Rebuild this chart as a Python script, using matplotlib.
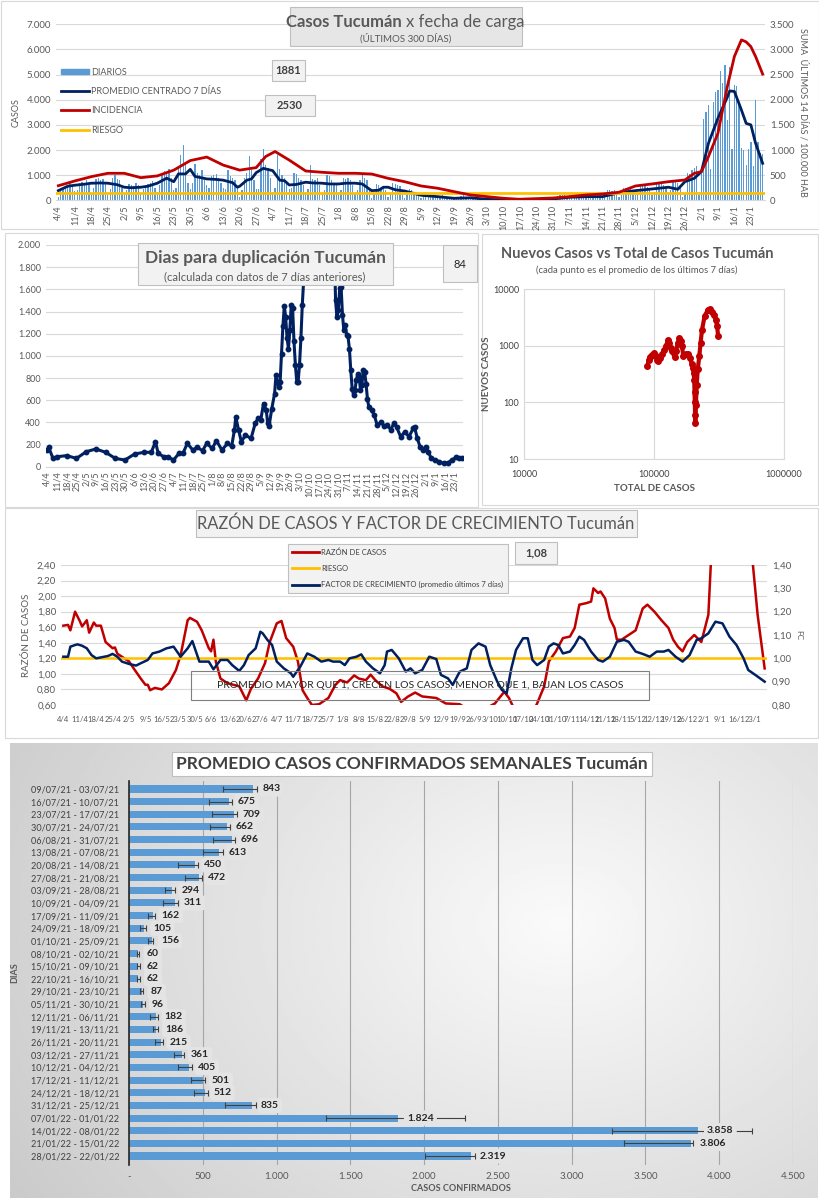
import numpy as np
import pandas as pd
import matplotlib
matplotlib.use('Agg')
import matplotlib.pyplot as plt
from matplotlib.patches import Rectangle, Patch
from matplotlib.lines import Line2D
from matplotlib.ticker import FuncFormatter

plt.rcParams['font.family'] = ['Lato', 'DejaVu Sans']

AZUL = '#002060'
ROJO = '#C00000'
AMAR = '#FFC000'
CELESTE = '#5B9BD5'
GRIS = '#595959'
GRID = '#D9D9D9'

# ---------------- datos: casos diarios (4/4/21 -> 28/1/22), una fila por semana
diarios = [
    150, 380, 450, 500, 620, 700, 550,
    380, 420, 700, 720, 650, 800, 600,
    250, 500, 850, 900, 800, 850, 700,
    200, 450, 900, 1000, 850, 800, 500,
    250, 400, 650, 600, 550, 700, 600,
    300, 450, 550, 650, 700, 750, 500,
    350, 600, 1000, 1150, 1100, 1250, 900,
    400, 500, 1300, 1800, 2200, 1500, 700,
    450, 700, 1450, 1100, 1000, 1200, 800,
    600, 500, 950, 1000, 1050, 900, 700,
    500, 450, 1200, 950, 900, 800, 500,
    150, 400, 900, 1100, 1750, 1200, 800,
    450, 450, 1650, 2050, 1400, 1300, 900,
    350, 500, 1800, 1250, 1000, 900, 700,
    450, 500, 1100, 1050, 900, 800, 600,
    300, 450, 1400, 850, 800, 900, 600,
    250, 400, 1000, 950, 800, 700, 600,
    200, 400, 900, 850, 900, 800, 600,
    250, 400, 800, 1000, 900, 800, 500,
    100, 250, 650, 600, 500, 550, 400,
    150, 300, 700, 650, 600, 550, 300,
    100, 250, 450, 400, 350, 300, 250,
    100, 200, 350, 300, 250, 200, 150,
    80, 120, 200, 180, 150, 130, 100,
    60, 100, 150, 180, 200, 150, 100,
    50, 80, 100, 90, 80, 70, 60,
    30, 50, 80, 70, 60, 60, 50,
    30, 40, 70, 80, 70, 60, 50,
    40, 60, 100, 110, 100, 90, 80,
    50, 60, 110, 120, 110, 100, 80,
    60, 80, 180, 200, 220, 210, 180,
    80, 120, 220, 230, 210, 200, 160,
    90, 130, 260, 270, 250, 240, 200,
    120, 180, 400, 420, 380, 400, 350,
    150, 220, 480, 500, 450, 430, 400,
    200, 300, 600, 580, 550, 520, 450,
    220, 350, 650, 700, 650, 600, 500,
    250, 400, 750, 800, 700, 600, 150,
    300, 1100, 1050, 1200, 1300, 1350, 200,
    1100, 3250, 3500, 3800, 1250, 3900, 4300,
    4400, 5150, 4650, 5400, 3200, 5300, 2050,
    4600, 4550, 3800, 2100, 2000, 1400, 2050,
    2300, 1350, 4000, 2300, 1900, 1850,
]

prom_fechas = ['4/4', '8/4', '11/4', '15/4', '18/4', '22/4', '25/4', '29/4', '2/5', '5/5',
               '9/5', '12/5', '16/5', '20/5', '23/5', '25/5', '28/5', '30/5', '1/6', '6/6',
               '10/6', '13/6', '17/6', '19/6', '20/6', '23/6', '25/6', '27/6', '30/6', '4/7',
               '7/7', '9/7', '11/7', '14/7', '18/7', '21/7', '25/7', '28/7', '1/8', '4/8',
               '8/8', '11/8', '15/8', '18/8', '20/8', '22/8', '25/8', '29/8', '5/9', '12/9',
               '19/9', '26/9', '3/10', '10/10', '17/10', '24/10', '31/10', '7/11', '14/11', '21/11',
               '28/11', '5/12', '12/12', '19/12', '23/12', '26/12', '30/12', '2/1', '5/1', '9/1',
               '13/1', '14/1', '16/1', '19/1', '21/1', '23/1', '25/1', '28/1']
prom_vals = [385, 560, 600, 640, 680, 690, 680, 620, 520, 500,
             520, 560, 680, 880, 740, 1050, 1050, 1230, 950, 850,
             830, 800, 700, 520, 560, 800, 850, 1100, 1270, 1180,
             800, 780, 610, 630, 720, 690, 680, 650, 650, 680,
             680, 650, 385, 400, 520, 520, 420, 370, 200, 145,
             80, 100, 40, 15, 40, 40, 55, 120, 145, 145,
             300, 385, 450, 520, 440, 740, 875, 1140, 2270, 3260,
             4100, 4350, 4330, 3590, 3060, 3000, 2270, 1470]

inc_fechas = ['4/4', '11/4', '18/4', '25/4', '2/5', '9/5', '16/5', '23/5', '30/5', '6/6',
              '13/6', '20/6', '27/6', '1/7', '5/7', '11/7', '18/7', '25/7', '1/8', '8/8',
              '15/8', '22/8', '29/8', '5/9', '12/9', '19/9', '26/9', '3/10', '10/10', '17/10',
              '24/10', '31/10', '7/11', '14/11', '21/11', '28/11', '5/12', '12/12', '19/12', '26/12',
              '30/12', '2/1', '5/1', '9/1', '13/1', '16/1', '19/1', '21/1', '23/1', '25/1', '28/1']
inc_vals = [290, 385, 470, 537, 537, 450, 485, 600, 790, 860,
            700, 600, 650, 870, 970, 800, 583, 557, 537, 537,
            523, 437, 370, 285, 240, 172, 106, 73, 40, 20,
            33, 46, 73, 106, 126, 160, 285, 325, 370, 404,
            537, 570, 870, 1330, 2260, 2860, 3190, 3150, 3055, 2860, 2510]
riesgo_inc = 150

# ---------------- dias para duplicacion
dup_fechas = ['4/4', '5/4', '8/4', '11/4', '18/4', '25/4', '2/5', '9/5', '16/5', '23/5',
              '30/5', '6/6', '13/6', '18/6', '21/6', '23/6', '27/6', '30/6', '4/7', '8/7',
              '11/7', '14/7', '18/7', '21/7', '25/7', '28/7', '1/8', '4/8', '8/8', '12/8',
              '15/8', '17/8', '18/8', '20/8', '22/8', '25/8', '29/8', '1/9', '3/9', '5/9',
              '7/9', '9/9', '10/9', '11/9', '13/9', '15/9', '16/9', '18/9', '19/9', '20/9',
              '21/9', '22/9', '23/9', '24/9', '25/9', '26/9', '27/9', '28/9', '29/9', '30/9',
              '1/10', '2/10', '3/10', '4/10', '5/10', '6/10', '7/10', '10/10', '15/10', '20/10',
              '25/10', '28/10', '29/10', '30/10', '31/10', '1/11', '2/11', '3/11', '4/11', '5/11',
              '6/11', '7/11', '8/11', '9/11', '10/11', '11/11', '12/11', '13/11', '14/11', '15/11',
              '16/11', '17/11', '18/11', '19/11', '20/11', '21/11', '22/11', '24/11', '26/11', '28/11',
              '1/12', '3/12', '5/12', '8/12', '10/12', '12/12', '15/12', '18/12', '21/12', '24/12',
              '25/12', '27/12', '29/12', '31/12', '2/1', '4/1', '6/1', '9/1', '12/1', '15/1',
              '18/1', '21/1', '24/1', '26/1', '28/1']
dup_vals = [150, 175, 75, 90, 100, 75, 135, 160, 130, 75,
            60, 115, 130, 130, 225, 120, 90, 90, 60, 120,
            125, 210, 150, 175, 145, 210, 165, 235, 150, 210,
            185, 330, 450, 330, 225, 285, 255, 390, 435, 420,
            570, 510, 390, 365, 525, 660, 825, 720, 765, 1020,
            1265, 1450, 1350, 1160, 1065, 1230, 1460, 1430, 1130, 920,
            765, 765, 920, 1160, 1460, 1685, 2300, 3200, 4000, 3600,
            2900, 2100, 1500, 1350, 1410, 1610, 1625, 1370, 1230, 1280,
            1190, 1175, 1065, 870, 705, 645, 690, 780, 840, 810,
            690, 735, 870, 855, 750, 615, 540, 510, 465, 375,
            405, 365, 375, 335, 390, 360, 270, 315, 270, 345,
            360, 255, 180, 150, 180, 135, 75, 60, 45, 30,
            35, 60, 85, 80, 75]

# ---------------- nuevos casos vs total
total = [89000, 91000, 93000, 96000, 100000, 103000, 106000, 108000, 111000, 116000,
         120000, 124000, 128000, 131000, 134000, 138000, 144000, 148000, 152000, 156000,
         160000, 164000, 168000, 175000, 183000, 190000, 195000, 199000, 202000, 204000,
         205000, 206000, 207000, 208000, 210000, 213000, 217000, 223000, 228000, 234000,
         245000, 258000, 268000, 280000, 292000, 300000, 306000, 311000]
nuevos = [430, 560, 640, 690, 740, 650, 560, 530, 600, 700,
          850, 1000, 1250, 1100, 900, 800, 620, 800, 1100, 1340,
          1200, 1000, 660, 700, 720, 600, 480, 400, 330, 250,
          150, 100, 60, 43, 90, 200, 380, 650, 1100, 1900,
          3300, 4200, 4500, 4000, 3500, 2800, 2200, 1500]

# ---------------- razon de casos y factor de crecimiento (dias desde 4/4)
razon_dias = [0, 2, 3, 5, 7, 8, 10, 11, 13, 14, 16, 18, 21, 22, 23, 25, 28, 30, 33, 35,
              36, 37, 39, 42, 45, 48, 50, 51, 53, 54, 57, 59, 62, 63, 64, 65, 67, 70, 75, 78,
              80, 83, 86, 88, 91, 93, 95, 98, 100, 102, 104, 106, 109, 113, 116, 118, 121, 124, 126, 129,
              131, 133, 136, 139, 142, 144, 147, 150, 153, 159, 163, 169, 172, 178, 184, 188, 190, 193, 200, 202,
              205, 207, 210, 213, 216, 218, 220, 223, 225, 226, 228, 229, 231, 233, 235, 236, 238, 241, 244, 247,
              249, 252, 255, 258, 260, 262, 264, 266, 269, 272, 275, 276, 277, 281, 287, 292, 294, 296, 299]
razon_vals = [1.62, 1.63, 1.56, 1.80, 1.68, 1.61, 1.69, 1.53, 1.66, 1.62, 1.62, 1.41, 1.33, 1.34, 1.26, 1.22, 1.16, 1.07, 0.94, 0.86,
              0.86, 0.79, 0.82, 0.80, 0.88, 1.05, 1.24, 1.39, 1.69, 1.72, 1.67, 1.56, 1.33, 1.29, 1.44, 1.16, 0.94, 0.88, 0.84, 0.66,
              0.81, 0.94, 1.14, 1.41, 1.65, 1.68, 1.46, 1.35, 1.16, 0.79, 0.69, 0.60, 0.61, 0.69, 0.86, 0.92, 0.89, 0.98, 0.94, 0.92,
              0.99, 0.92, 0.84, 0.81, 0.75, 0.64, 0.71, 0.76, 0.71, 0.69, 0.62, 0.61, 0.55, 0.52, 0.62, 0.77, 0.69, 0.50, 0.50, 0.62,
              0.84, 1.16, 1.29, 1.46, 1.48, 1.59, 1.89, 1.91, 1.93, 2.10, 2.04, 2.06, 1.97, 1.71, 1.59, 1.44, 1.44, 1.50, 1.56, 1.84,
              1.89, 1.80, 1.69, 1.59, 1.44, 1.35, 1.29, 1.41, 1.50, 1.41, 1.76, 2.38, 2.80, 3.50, 3.60, 2.90, 2.40, 1.76, 1.07]

fc_dias = [0, 2, 3, 5, 6, 8, 10, 12, 14, 16, 19, 21, 23, 25, 28, 31, 33, 36, 38, 41,
           44, 47, 50, 53, 55, 58, 62, 64, 67, 70, 72, 75, 77, 79, 82, 84, 85, 87, 89, 91,
           94, 97, 98, 99, 101, 104, 107, 110, 113, 115, 118, 120, 122, 125, 127, 129, 132, 135, 137, 138,
           140, 143, 146, 148, 150, 153, 156, 159, 161, 164, 166, 169, 172, 174, 177, 180, 182, 185, 187, 189,
           191, 193, 196, 198, 200, 202, 205, 207, 209, 211, 213, 216, 218, 220, 222, 225, 228, 230, 233, 236,
           239, 241, 244, 247, 250, 253, 256, 258, 261, 264, 267, 270, 272, 275, 278, 281, 284, 287, 290, 292,
           295, 299]
fc_vals = [1.007, 1.007, 1.05, 1.057, 1.06, 1.054, 1.043, 1.014, 1.0, 1.004, 1.01, 1.019, 1.007, 0.986, 0.976, 0.969, 0.979, 0.993, 1.021, 1.029,
           1.043, 1.05, 1.007, 1.043, 1.074, 0.986, 0.986, 0.953, 0.993, 0.993, 0.971, 0.946, 0.971, 1.014, 1.043, 1.114, 1.107, 1.079, 1.057, 0.986,
           0.957, 0.936, 0.921, 0.936, 0.964, 1.021, 1.007, 0.986, 0.993, 0.986, 0.986, 0.971, 1.0, 1.007, 1.017, 0.986, 0.957, 0.936, 0.971, 1.029,
           1.036, 1.0, 0.943, 0.957, 0.936, 0.95, 1.007, 0.997, 0.929, 0.914, 0.886, 0.943, 0.957, 1.036, 1.064, 1.05, 0.971, 0.9, 0.864, 0.85,
           0.957, 1.036, 1.086, 1.086, 0.993, 0.971, 0.993, 1.05, 1.064, 1.057, 1.021, 1.029, 1.057, 1.093, 1.079, 1.029, 0.993, 0.986, 1.007, 1.071,
           1.079, 1.071, 1.029, 1.019, 1.007, 1.029, 1.029, 1.036, 1.007, 0.986, 1.014, 1.079, 1.086, 1.107, 1.157, 1.15, 1.093, 1.057, 1.0, 0.95,
           0.929, 0.9]

# ---------------- promedios semanales
semanas = ['09/07/21 - 03/07/21', '16/07/21 - 10/07/21', '23/07/21 - 17/07/21', '30/07/21 - 24/07/21',
           '06/08/21 - 31/07/21', '13/08/21 - 07/08/21', '20/08/21 - 14/08/21', '27/08/21 - 21/08/21',
           '03/09/21 - 28/08/21', '10/09/21 - 04/09/21', '17/09/21 - 11/09/21', '24/09/21 - 18/09/21',
           '01/10/21 - 25/09/21', '08/10/21 - 02/10/21', '15/10/21 - 09/10/21', '22/10/21 - 16/10/21',
           '29/10/21 - 23/10/21', '05/11/21 - 30/10/21', '12/11/21 - 06/11/21', '19/11/21 - 13/11/21',
           '26/11/21 - 20/11/21', '03/12/21 - 27/11/21', '10/12/21 - 04/12/21', '17/12/21 - 11/12/21',
           '24/12/21 - 18/12/21', '31/12/21 - 25/12/21', '07/01/22 - 01/01/22', '14/01/22 - 08/01/22',
           '21/01/22 - 15/01/22', '28/01/22 - 22/01/22']
promedios = [843, 675, 709, 662, 696, 613, 450, 472, 294, 311, 162, 105, 156, 60, 62,
             62, 87, 96, 182, 186, 215, 361, 405, 501, 512, 835, 1824, 3858, 3806, 2319]
err_min = [639, 544, 562, 549, 571, 499, 334, 381, 244, 228, 131, 75, 131, 52, 52,
           52, 75, 79, 142, 160, 176, 305, 334, 418, 440, 651, 1333, 3271, 3355, 2006]
err_max = [865, 700, 734, 684, 718, 635, 470, 497, 312, 330, 176, 115, 165, 70, 75,
           75, 97, 108, 199, 199, 232, 373, 425, 517, 535, 858, 2277, 4220, 3824, 2345]

# ----------------------------------------------------------------------
W, H = 820, 1200
base = pd.Timestamp('2021-04-04')


def dia(s):
    d, m = map(int, s.split('/'))
    return (pd.Timestamp(2021 if m >= 4 else 2022, m, d) - base).days


def miles(v, pos=None):
    return f'{v:,.0f}'.replace(',', '.')


def coma(v, pos=None):
    return f'{v:.2f}'.replace('.', ',')


def rect(x0, y0, x1, y1):
    return [x0 / W, 1 - y1 / H, (x1 - x0) / W, (y1 - y0) / H]


def fx(x):
    return x / W


def fy(y):
    return 1 - y / H


def caja(x0, y0, x1, y1, fc='#F2F2F2', ec='#BFBFBF', z=5, lw=0.8):
    fig.patches.append(Rectangle((fx(x0), fy(y1)), (x1 - x0) / W, (y1 - y0) / H,
                                 transform=fig.transFigure, fc=fc, ec=ec, lw=lw, zorder=z))


def limpiar(ax):
    for s in ax.spines.values():
        s.set_visible(False)
    ax.tick_params(length=0, colors=GRIS, labelsize=7)


tick_fechas = pd.date_range('2021-04-04', periods=43, freq='7D')
tick_pos = [(d - base).days for d in tick_fechas]
tick_lab = [f'{d.day}/{d.month}' for d in tick_fechas]

fig = plt.figure(figsize=(8.2, 12), dpi=100)

# marcos de los paneles (detras de todo)
caja(1, 1, 819, 229, fc='white', ec=GRID, z=-2)
caja(5, 233, 478, 507, fc='white', ec=GRID, z=-2)
caja(482, 234, 818, 505, fc='white', ec=GRID, z=-2)
caja(5, 508, 818, 738, fc='white', ec=GRID, z=-2)

# ======================= panel 1
ax1 = fig.add_axes(rect(56, 24.3, 765, 200.3))
ax1.patch.set_alpha(0)
limpiar(ax1)
ax1.spines['bottom'].set_visible(True)
ax1.spines['bottom'].set_color(GRID)
ax1.bar(np.arange(len(diarios)), diarios, width=0.55, color=CELESTE, zorder=2)
ax1.plot([dia(s) for s in prom_fechas], prom_vals, color=AZUL, lw=2, zorder=3)
ax1.set_xlim(-1, 300)
ax1.set_ylim(0, 7000)
ax1.set_yticks(range(0, 7001, 1000))
ax1.yaxis.set_major_formatter(FuncFormatter(miles))
ax1.grid(axis='y', color=GRID, lw=0.8, zorder=0)
ax1.set_axisbelow(True)
ax1.set_xticks(tick_pos)
ax1.set_xticklabels(tick_lab, rotation=90, fontsize=6.5)
ax1.set_ylabel('CASOS', fontsize=6.5, color=GRIS, labelpad=4)

ax1b = ax1.twinx()
limpiar(ax1b)
ax1b.plot([dia(s) for s in inc_fechas], inc_vals, color=ROJO, lw=2, zorder=3)
ax1b.axhline(riesgo_inc, color=AMAR, lw=2, zorder=2)
ax1b.set_ylim(0, 3500)
ax1b.set_yticks(range(0, 3501, 500))
ax1b.yaxis.set_major_formatter(FuncFormatter(miles))
ax1b.set_ylabel('SUMA  ÚLTIMOS 14 DÍAS / 100.000 HAB', rotation=-90, fontsize=6.5,
                color=GRIS, labelpad=10)

h1 = [Patch(color=CELESTE), Line2D([], [], color=AZUL, lw=2),
      Line2D([], [], color=ROJO, lw=2), Line2D([], [], color=AMAR, lw=2)]
ax1b.legend(h1, ['DIARIOS', 'PROMEDIO CENTRADO 7 DÍAS', 'INCIDENCIA', 'RIESGO'],
            loc='upper left', bbox_to_anchor=(-0.005, 0.80), frameon=False, fontsize=6.5,
            labelcolor=GRIS, handlelength=3.2, handleheight=0.6, labelspacing=1.15,
            handletextpad=0.2)

caja(290, 7, 522, 46, fc='#E7E6E6', ec='#BFBFBF')
fig.text(fx(402), fy(22), 'Casos Tucumán', ha='right', va='center', fontsize=12,
         fontweight='bold', color=GRIS, zorder=6)
fig.text(fx(406), fy(22), 'x fecha de carga', ha='left', va='center', fontsize=12,
         color=GRIS, zorder=6)
fig.text(fx(406), fy(38), '(ÚLTIMOS 300 DÍAS)', ha='center', va='center', fontsize=7,
         color=GRIS, zorder=6)
for txt, x0, y0, x1, y1 in [('1881', 272, 60, 305, 81), ('2530', 265, 95, 315, 116)]:
    caja(x0, y0, x1, y1)
    fig.text(fx((x0 + x1) / 2), fy((y0 + y1) / 2), txt, ha='center', va='center',
             fontsize=8, fontweight='bold', color='#404040', zorder=6)

# ======================= panel 2
ax2 = fig.add_axes(rect(46, 245, 463, 466.7))
ax2.patch.set_alpha(0)
limpiar(ax2)
ax2.spines['bottom'].set_visible(True)
ax2.spines['bottom'].set_color(GRID)
ax2.plot([dia(s) for s in dup_fechas], dup_vals, color=AZUL, lw=2.2, marker='o', ms=3.2)
ax2.set_xlim(-1, 300)
ax2.set_ylim(0, 2000)
ax2.set_yticks(range(0, 2001, 200))
ax2.yaxis.set_major_formatter(FuncFormatter(miles))
ax2.grid(axis='y', color=GRID, lw=0.8)
ax2.set_axisbelow(True)
ax2.set_xticks(tick_pos)
ax2.set_xticklabels(tick_lab, rotation=90, fontsize=6.5)
ax2.tick_params(axis='y', labelsize=6.5)

caja(138, 243, 393, 285)
fig.text(fx(265), fy(258), 'Dias para duplicación Tucumán', ha='center', va='center',
         fontsize=12.5, fontweight='bold', color=GRIS, zorder=6)
fig.text(fx(265), fy(277), '(calculada con datos de 7 días anteriores)', ha='center',
         va='center', fontsize=8, color=GRIS, zorder=6)
caja(443, 245, 477, 282)
fig.text(fx(460), fy(264), '84', ha='center', va='center', fontsize=8, color='#262626', zorder=6)

# ======================= panel 3
ax3 = fig.add_axes(rect(524, 289, 784, 459))
ax3.patch.set_alpha(0)
ax3.set_xscale('log')
ax3.set_yscale('log')
ax3.plot(total, nuevos, color=ROJO, lw=3, marker='o', ms=4)
ax3.set_xlim(1e4, 1e6)
ax3.set_ylim(10, 1e4)
ax3.minorticks_off()
ax3.grid(True, color=GRID, lw=0.8)
for s in ax3.spines.values():
    s.set_color(GRID)
ax3.tick_params(length=0, labelsize=6.5, colors='#404040')
ax3.xaxis.set_major_formatter(FuncFormatter(lambda v, p: f'{v:.0f}'))
ax3.yaxis.set_major_formatter(FuncFormatter(lambda v, p: f'{v:.0f}'))
ax3.tick_params(axis='x', pad=8)
fig.text(fx(637), fy(254), 'Nuevos Casos vs Total de Casos Tucumán', ha='center', va='center',
         fontsize=10.5, fontweight='bold', color=GRIS)
fig.text(fx(637), fy(270), '(cada punto es el promedio de los últimos 7 días)', ha='center',
         va='center', fontsize=6.8, color=GRIS)
fig.text(fx(654), fy(488), 'TOTAL DE CASOS', ha='center', va='center', fontsize=7,
         fontweight='bold', color=GRIS)
fig.text(fx(487), fy(374), 'NUEVOS CASOS', ha='center', va='center', fontsize=7,
         fontweight='bold', color=GRIS, rotation=90)

# ======================= panel 4
ax4 = fig.add_axes(rect(61, 565, 767, 705))
ax4.patch.set_alpha(0)
limpiar(ax4)
ax4.plot(razon_dias, razon_vals, color=ROJO, lw=1.8, zorder=3)
ax4.set_xlim(-1, 300)
ax4.set_ylim(0.6, 2.4)
ax4.set_yticks(np.arange(0.6, 2.41, 0.2))
ax4.yaxis.set_major_formatter(FuncFormatter(coma))
ax4.grid(axis='y', color=GRID, lw=0.8)
ax4.set_axisbelow(True)
ax4.set_xticks(tick_pos)
ax4.set_xticklabels(tick_lab, fontsize=5.5)
ax4.tick_params(axis='x', pad=8)
ax4.set_ylabel('RAZÓN DE CASOS', fontsize=7, color=GRIS)

ax4b = ax4.twinx()
limpiar(ax4b)
ax4b.axhline(1.0, color=AMAR, lw=1.8, zorder=1)
ax4b.plot(fc_dias, fc_vals, color=AZUL, lw=1.8, zorder=2)
ax4b.set_ylim(0.8, 1.4)
ax4b.set_yticks(np.arange(0.8, 1.41, 0.1))
ax4b.yaxis.set_major_formatter(FuncFormatter(coma))
ax4b.set_ylabel('FC', rotation=-90, fontsize=6, color=GRIS, labelpad=8)

h4 = [Line2D([], [], color=ROJO, lw=2), Line2D([], [], color=AMAR, lw=2),
      Line2D([], [], color=AZUL, lw=2)]
lg = fig.legend(h4, ['RAZÓN DE CASOS', 'RIESGO', 'FACTOR DE CRECIMIENTO (promedio últimos 7 días)'],
                loc='upper left', bbox_to_anchor=(fx(284), fy(540)), fontsize=5.5,
                labelcolor='#404040', frameon=True, fancybox=False, facecolor='#F2F2F2',
                edgecolor='#BFBFBF', framealpha=1, handlelength=3.5, labelspacing=1.2,
                handletextpad=0.3, borderpad=0.6)
lg.get_frame().set_linewidth(0.8)

caja(196, 510, 637, 537)
fig.text(fx(416), fy(524), 'RAZÓN DE CASOS Y FACTOR DE CRECIMIENTO Tucumán', ha='center',
         va='center', fontsize=11.9, color=GRIS, zorder=6)
caja(515, 542, 557, 564)
fig.text(fx(536), fy(553), '1,08', ha='center', va='center', fontsize=8, fontweight='bold',
         color='#404040', zorder=6)
caja(191, 671, 649, 700, fc='none', ec='#7F7F7F', z=1)
fig.text(fx(420), fy(686), 'PROMEDIO MAYOR QUE 1, CRECEN LOS CASOS, MENOR QUE 1, BAJAN LOS CASOS',
         ha='center', va='center', fontsize=7.5, color='#262626')

# ======================= panel 5
axg = fig.add_axes(rect(10, 743, 818, 1198), zorder=0)
gx, gy = np.meshgrid(np.linspace(0, 1, 300), np.linspace(0, 1, 300))
fondo = 0.98 - 0.22 * np.sqrt(((gx - 0.68) / 0.95) ** 2 + ((gy - 0.4) / 1.3) ** 2)
axg.imshow(fondo, cmap='gray', vmin=0, vmax=1, aspect='auto', extent=[0, 1, 0, 1])
axg.axis('off')

ax5 = fig.add_axes(rect(129, 781, 793, 1165), zorder=1)
ax5.patch.set_alpha(0)
yy = np.arange(len(semanas))
prom = np.array(promedios)
ax5.barh(yy, prom, height=0.56, color=CELESTE, zorder=2)
ax5.errorbar(prom, yy, xerr=[prom - np.array(err_min), np.array(err_max) - prom], fmt='none',
             ecolor='#404040', elinewidth=0.8, capsize=2, capthick=0.8, zorder=3)
for i, v in enumerate(promedios):
    ax5.text(v + 60, i, miles(v), ha='left', va='center', fontsize=7.5, fontweight='bold',
             color='#262626', zorder=4,
             bbox=dict(boxstyle='round,pad=0.3', fc='#E4E4E4', ec='none'))
ax5.set_xlim(0, 4500)
ax5.set_ylim(29.71, -0.63)
ax5.set_yticks(yy)
ax5.set_yticklabels(semanas)
ax5.set_xticks(range(0, 4501, 500))
ax5.xaxis.set_major_formatter(FuncFormatter(lambda v, p: '-' if v == 0 else miles(v)))
for s in ['top', 'right', 'bottom']:
    ax5.spines[s].set_visible(False)
ax5.spines['left'].set_color('#262626')
ax5.spines['left'].set_linewidth(1.2)
ax5.tick_params(length=0, colors='#404040', labelsize=6.6)
ax5.tick_params(axis='y', pad=7)
ax5.tick_params(axis='x', labelsize=7, colors=GRIS, pad=5)
ax5.grid(axis='x', color='#A6A6A6', lw=0.8)
ax5.set_axisbelow(True)
ax5.set_xlabel('CASOS CONFIRMADOS', fontsize=6.5, fontweight='bold', color=GRIS, labelpad=2)
ax5.set_ylabel('DIAS', fontsize=6.5, fontweight='bold', color=GRIS, labelpad=8)

fig.text(fx(412), fy(764), 'PROMEDIO CASOS CONFIRMADOS SEMANALES Tucumán', ha='center',
         va='center', fontsize=12.5, fontweight='bold', color='#404040', zorder=6,
         bbox=dict(boxstyle='square,pad=0.25', fc='white', ec='#BFBFBF', lw=0.8))

fig.savefig('out.png', dpi=100)
